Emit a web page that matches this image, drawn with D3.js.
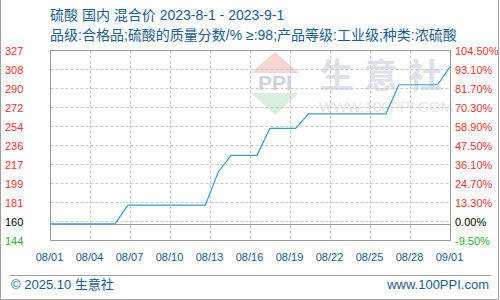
<!DOCTYPE html>
<html>
<head>
<meta charset="utf-8">
<script src="https://cdn.jsdelivr.net/npm/d3@7"></script>
<style>
  html, body { margin: 0; padding: 0; background: #fff; }
  svg text { font-family: "Liberation Sans", "Noto Sans CJK SC", sans-serif; }
</style>
</head>
<body>
<div id="chart"></div>
<script>
// days since 08/01 and the price on that day
var days   = [0, 1, 2, 3, 4, 5, 6, 7, 8, 9, 10, 11, 12, 13, 14, 15,
              16, 17, 18, 19, 20, 21, 22, 23, 24, 25, 26, 27, 28, 29, 30, 31];
var prices = [160, 160, 160, 160, 160, 160, 178, 178, 178, 178, 178, 178, 178, 210, 226, 226,
              226, 252, 252, 252, 266, 266, 266, 266, 266, 266, 266, 294, 294, 294, 294, 312];

var basePrice   = 160;
var priceLabels = ['144', '160', '181', '199', '217', '236', '254', '272', '290', '308', '327'];
var pctLabels   = ['-9.50%', '0.00%', '13.30%', '24.70%', '36.10%', '47.50%', '58.90%',
                   '70.30%', '81.70%', '93.10%', '104.50%'];
var dateLabels  = ['08/01', '08/04', '08/07', '08/10', '08/13', '08/16', '08/19',
                   '08/22', '08/25', '08/28', '09/01'];

var title    = '硫酸 国内 混合价 2023-8-1 - 2023-9-1';
var subtitle = '品级:合格品;硫酸的质量分数/% ≥:98;产品等级:工业级;种类:浓硫酸';

(function(d3) {

  var W = 500, H = 300;
  var left = 50.5, right = 450.5, top = 50.5, bottom = 240.5;
  var blue = '#1b5c8c';

  var svg = d3.select('#chart').append('svg')
      .attr('width', W)
      .attr('height', H);

  // outer frame (no top edge)
  svg.append('path')
      .attr('d', 'M0.5,0 V299.5 H498.5 V0')
      .attr('fill', 'none')
      .attr('stroke', '#a0a0a0');

  svg.append('text').attr('x', 50).attr('y', 20)
      .attr('font-size', 14).attr('fill', blue).text(title);
  svg.append('text').attr('x', 50).attr('y', 40)
      .attr('font-size', 14).attr('fill', blue).text(subtitle);

  var x = d3.scaleLinear().domain([0, 31]).range([left, right]);
  var y = d3.scaleLinear().domain([144, 327]).range([bottom, top]);

  var gridX = d3.scalePoint().domain(dateLabels).range([left, right]);
  var gridY = d3.scalePoint().domain(priceLabels).range([bottom, top]);

  // watermark
  var wm = svg.append('g');
  wm.append('path').attr('d', 'M275,52 L251,73 L299,73 Z').attr('fill', '#f6d6d2');
  wm.append('text').attr('x', 275).attr('y', 90).attr('text-anchor', 'middle')
      .attr('font-size', 21).attr('font-weight', 'bold')
      .attr('font-family', '"Liberation Serif", serif')
      .attr('fill', '#ccd3e3').text('PPI');
  wm.append('path').attr('d', 'M251,93 L299,93 L275,115 Z').attr('fill', '#d9eedb');
  wm.append('text').attr('x', 386).attr('y', 88).attr('text-anchor', 'middle')
      .attr('font-size', 34).attr('font-weight', 'bold')
      .attr('letter-spacing', 10)
      .attr('fill', '#dde1ec').text('生意社');
  wm.append('text').attr('x', 386).attr('y', 112).attr('text-anchor', 'middle')
      .attr('font-size', 15)
      .attr('fill', '#e6e6e6').text('WWW.100PPI.COM');

  // dashed grid
  svg.append('g').selectAll('line.gx')
      .data(dateLabels.slice(1, -1))
      .enter().append('line')
      .attr('x1', function(d) { return gridX(d); })
      .attr('x2', function(d) { return gridX(d); })
      .attr('y1', top).attr('y2', bottom)
      .attr('stroke', '#c8c8c8').attr('stroke-dasharray', '3,2');

  svg.append('g').selectAll('line.gy')
      .data(priceLabels.slice(1, -1))
      .enter().append('line')
      .attr('y1', function(d) { return gridY(d); })
      .attr('y2', function(d) { return gridY(d); })
      .attr('x1', left).attr('x2', right)
      .attr('stroke', '#c8c8c8').attr('stroke-dasharray', '3,2');

  // base price line
  svg.append('line')
      .attr('x1', left).attr('x2', right)
      .attr('y1', Math.round(y(basePrice)) + 0.5).attr('y2', Math.round(y(basePrice)) + 0.5)
      .attr('stroke', '#9a9a9a');

  svg.append('rect')
      .attr('x', left).attr('y', top)
      .attr('width', right - left).attr('height', bottom - top)
      .attr('fill', 'none').attr('stroke', '#9a9a9a');

  var line = d3.line()
      .x(function(d, i) { return x(days[i]); })
      .y(function(d) { return y(d); });

  svg.append('path')
      .datum(prices)
      .attr('d', line)
      .attr('fill', 'none')
      .attr('stroke', '#3a9ad9')
      .attr('stroke-width', 1.2);

  // axis labels
  var colorOf = function(i) {
    if (i === 0) { return '#33aa33'; }
    if (i === 1) { return '#000'; }
    return '#ff3333';
  };

  svg.append('g').selectAll('text')
      .data(priceLabels)
      .enter().append('text')
      .attr('x', 5)
      .attr('y', function(d) { return gridY(d) + 4; })
      .attr('font-size', 11)
      .attr('fill', function(d, i) { return colorOf(i); })
      .text(function(d) { return d; });

  svg.append('g').selectAll('text')
      .data(pctLabels)
      .enter().append('text')
      .attr('x', 455)
      .attr('y', function(d, i) { return gridY(priceLabels[i]) + 4; })
      .attr('font-size', 11)
      .attr('fill', function(d, i) { return colorOf(i); })
      .text(function(d) { return d; });

  svg.append('g').selectAll('text')
      .data(dateLabels)
      .enter().append('text')
      .attr('x', function(d) { return gridX(d) - 1; })
      .attr('y', 261)
      .attr('text-anchor', 'middle')
      .attr('font-size', 11)
      .attr('fill', blue)
      .text(function(d) { return d; });

  // footer
  svg.append('line')
      .attr('x1', 10).attr('x2', 491)
      .attr('y1', 275.5).attr('y2', 275.5)
      .attr('stroke', '#a0a0a0');
  svg.append('text').attr('x', 11).attr('y', 289)
      .attr('font-size', 13).attr('fill', blue).text('© 2025.10 生意社');
  svg.append('text').attr('x', 489).attr('y', 289)
      .attr('text-anchor', 'end')
      .attr('font-size', 13).attr('fill', blue).text('www.100PPI.com');

}(d3));
</script>
</body>
</html>
